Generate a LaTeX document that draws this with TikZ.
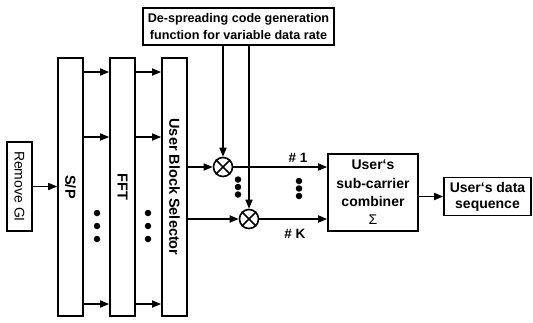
\documentclass[tikz,border=0pt]{standalone}
\usepackage{fontspec}
\usepackage{graphicx}
\setmainfont{Liberation Sans}
\usetikzlibrary{arrows.meta}
\begin{document}
\begin{tikzpicture}[x=1pt,y=-1pt,line width=1.6pt,
  box/.style={draw,rectangle,inner sep=0pt,align=center,font=\bfseries\fontsize{14}{18.3}\selectfont},
  tall/.style={box,minimum width=25pt,minimum height=258pt,font=\bfseries\fontsize{14.5}{16}\selectfont},
  arr/.style={-{Triangle[length=9pt,width=7pt]}},
  mult/.style={draw,circle,minimum size=19pt,inner sep=0pt},
  bigdot/.style={circle,fill,inner sep=0pt,minimum size=6.5pt},
  lbl/.style={inner sep=0pt,font=\bfseries\fontsize{13.5}{15}\selectfont}]
\useasboundingbox (0,0) rectangle (533,322);
% blocks
\node[box,font=\fontsize{14}{16}\selectfont,minimum width=25pt,minimum height=89pt] (rgi) at (19.5,186.5) {\rotatebox{-90}{Remove GI}};
\node[tall] (sp) at (70.5,187) {\rotatebox{-90}{S/P}};
\node[tall] (fft) at (122.5,187) {\rotatebox{-90}{FFT}};
\node[tall] (ubs) at (174.5,187) {\rotatebox{-90}{User Block Selector}};
\node[box,font=\bfseries\fontsize{12.6}{17}\selectfont,minimum width=191pt,minimum height=37pt] (code) at (238.5,26.5) {De-spreading code generation\\function for variable data rate};
\node[box,minimum width=90pt,minimum height=77pt] (comb) at (373,192.5) {User`s\\sub-carrier\\combiner\\{\mdseries Σ}};
\node[box,font=\bfseries\fontsize{14}{16}\selectfont,minimum width=87pt,minimum height=38pt] (data) at (487.5,196.5) {User`s data\\sequence};
% multipliers
\node[mult] (m1) at (223,167) {};
\node[mult] (mk) at (249,219) {};
\draw (m1.north west) -- (m1.south east) (m1.north east) -- (m1.south west);
\draw (mk.north west) -- (mk.south east) (mk.north east) -- (mk.south west);
% row coordinates
\coordinate (r1) at (0,72);
\coordinate (r2) at (0,137);
\coordinate (r3) at (0,304);
% connectors
\draw[arr] (rgi.east) -- (sp.west |- rgi.east);
\foreach \r in {r1,r2,r3}{
  \draw[arr] (sp.east |- \r) -- (fft.west |- \r);
  \draw[arr] (fft.east |- \r) -- (ubs.west |- \r);
}
\draw[arr] (ubs.east |- m1) -- (m1.west);
\draw[arr] (ubs.east |- mk) -- (mk.west);
\draw[arr] (code.south -| m1) -- (m1.north);
\draw[arr] (code.south -| mk) -- (mk.north);
\draw[arr] (m1.east) -- (comb.west |- m1);
\draw[arr] (mk.east) -- (comb.west |- mk);
\draw[arr] (comb.east |- data) -- (data.west);
% labels
\node[lbl] (l1) at (298,158) {\# 1};
\node[lbl] (lk) at (295,234) {\# K};
% dots
\node[bigdot] (a1) at (97,213) {};
\node[bigdot] (a2) at (97,226) {};
\node[bigdot] (a3) at (97,239) {};
\node[bigdot] (b1) at (148,213) {};
\node[bigdot] (b2) at (148,226) {};
\node[bigdot] (b3) at (148,239) {};
\node[bigdot] (c1) at (238,179.5) {};
\node[bigdot] (c2) at (238,187) {};
\node[bigdot] (c3) at (238,194.5) {};
\node[bigdot] (e1) at (299,181) {};
\node[bigdot] (e2) at (299,188.5) {};
\node[bigdot] (e3) at (299,196) {};
\end{tikzpicture}
\end{document}
